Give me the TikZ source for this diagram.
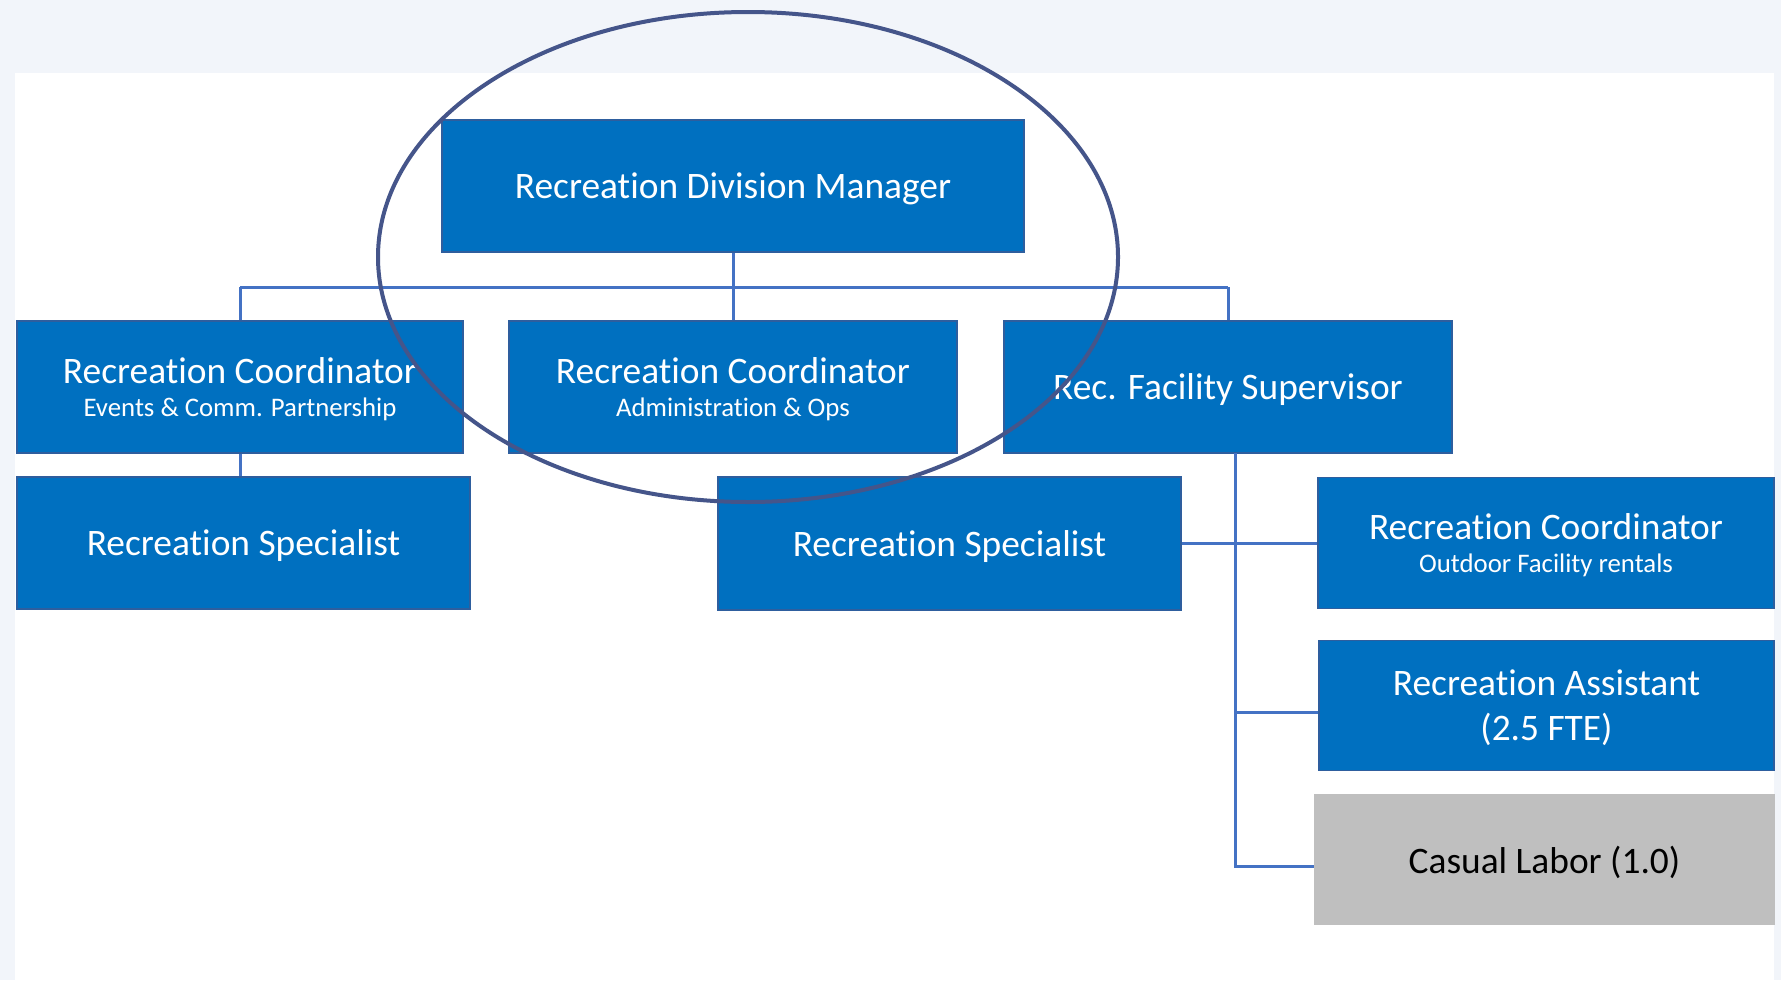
\documentclass[tikz,border=0pt]{standalone}
\usepackage{fontspec}
\setmainfont{Carlito}[Ligatures=NoCommon]
\definecolor{bg}{HTML}{F2F5FA}
\definecolor{boxblue}{HTML}{0070C0}
\definecolor{boxedge}{HTML}{2E5E9E}
\definecolor{linkc}{HTML}{4472C4}
\definecolor{ringc}{HTML}{45558A}
\definecolor{graybox}{HTML}{BFBFBF}
\begin{document}
\begin{tikzpicture}[x=0.5pt,y=-0.5pt,
  box/.style={rectangle, fill=boxblue, draw=boxedge, line width=0.6pt, text=white,
    align=center, inner sep=0pt, text depth=-2pt, font=\fontsize{18.7}{22.5}\selectfont},
  greybox/.style={box, fill=graybox, draw=graybox, text=black},
  linkline/.style={draw=linkc, line width=1.5pt},
  ringline/.style={draw=ringc, line width=2pt}]
\newcommand{\subline}[1]{{\fontsize{13.4}{15}\selectfont #1}}
\useasboundingbox (0,0) rectangle (1781,980);
\fill[bg] (0,0) rectangle (1781,980);
\fill[white] (15,73) rectangle (1774,980);

\node[box, minimum width=291pt, minimum height=66pt] (mgr) at (733,186) {Recreation Division Manager};
\node[box, minimum width=223pt, minimum height=66pt] (coA) at (240,387)
  {Recreation Coordinator\\[-6pt]\subline{Events \& Comm. Partnership}};
\node[box, minimum width=224pt, minimum height=66pt] (coB) at (733,387)
  {Recreation Coordinator\\[-6pt]\subline{Administration \& Ops}};
\node[box, minimum width=224pt, minimum height=66pt] (sup) at (1228,387) {Rec. Facility Supervisor};
\node[box, minimum width=226.5pt, minimum height=66pt] (spA) at (243.5,543) {Recreation Specialist};
\node[box, minimum width=231.5pt, minimum height=66.5pt] (spB) at (949.5,543.5) {Recreation Specialist};
\node[box, minimum width=228pt, minimum height=65.5pt] (coC) at (1546,543)
  {Recreation Coordinator\\[-6pt]\subline{Outdoor Facility rentals}};
\node[box, minimum width=227.5pt, minimum height=65pt] (asst) at (1546.5,705.5)
  {Recreation Assistant\\(2.5 FTE)};
\node[greybox, minimum width=229.5pt, minimum height=64.5pt] (cas) at (1544.5,859.5) {Casual Labor (1.0)};

\coordinate (bus) at (733,287);
\coordinate (tk) at (1235,453);
\coordinate (tkA) at (1235,712);
\coordinate (tkEnd) at (1235,866);

\draw[linkline] (mgr.south) -- (bus);
\draw[linkline] (coA.north |- bus) -- (sup.north |- bus);
\draw[linkline] (coA.north |- bus) -- (coA.north);
\draw[linkline] (coB.north |- bus) -- (coB.north);
\draw[linkline] (sup.north |- bus) -- (sup.north);
\draw[linkline] (coA.south) -- (coA.south |- spA.north);
\draw[linkline] (tk) -- (tkEnd) -- (cas.west |- tkEnd);
\draw[linkline] (spB.east) -- (coC.west |- spB.east);
\draw[linkline] (tkA) -- (asst.west |- tkA);

\draw[ringline] (748,257) ellipse [x radius=370, y radius=245];
\end{tikzpicture}
\end{document}
